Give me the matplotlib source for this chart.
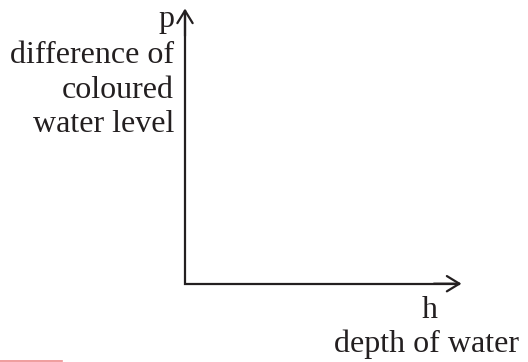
import matplotlib
matplotlib.use("Agg")
import matplotlib.pyplot as plt

# Diagram text content
y_symbol = "p"
y_label_lines = ["difference of", "coloured", "water level"]
x_symbol = "h"
x_label_lines = ["depth of water"]

W, H = 528, 362
INK = "#231f20"
FONT = "Liberation Serif"

fig = plt.figure(figsize=(W / 100, H / 100), dpi=100)

# axes placed so that its origin is the corner of the two axis arrows
ox, oy = 185, 283.7       # origin in pixels (from top-left)
xt, yt = 461.5, 8.5       # arrow tips
ax = fig.add_axes([ox / W, 1 - oy / H, (xt - ox) / W, (oy - yt) / H])
ax.set_xlim(0, 1)
ax.set_ylim(0, 1)
ax.axis("off")

# L-shaped axis lines with a clean square corner
ax.plot([0.995, 0, 0], [0, 0, 0.995], color=INK, lw=1.6, clip_on=False,
        solid_joinstyle="miter", solid_capstyle="butt")

arrow_kw = dict(arrowstyle="->,head_length=0.9,head_width=0.55",
                color=INK, lw=1.6, shrinkA=0, shrinkB=0, mutation_scale=10)
ax.annotate("", xy=(1, 0), xytext=(0.9, 0), xycoords="axes fraction",
            arrowprops=arrow_kw, annotation_clip=False)
ax.annotate("", xy=(0, 1), xytext=(0, 0.9), xycoords="axes fraction",
            arrowprops=arrow_kw, annotation_clip=False)

def ftext(x, y, s, ha):
    fig.text(x / W, 1 - y / H, s, ha=ha, va="baseline", fontsize=23,
             family=FONT, color=INK)

# y-axis labels (right-aligned to the left of the vertical axis)
ftext(174, 27, y_symbol, "right")
for i, line in enumerate(y_label_lines):
    ftext(174, 63 + i * 34.5, line, "right")

# x-axis labels (below the arrow tip)
ftext(430, 318, x_symbol, "center")
for i, line in enumerate(x_label_lines):
    ftext(427, 352 + i * 34.5, line, "center")

# faint red trace at the bottom-left edge of the reference
fig.add_artist(plt.Line2D([0, 62 / W], [0.6 / H, 0.6 / H], color="#e87070",
                          lw=1.2, alpha=0.8, transform=fig.transFigure))

fig.savefig("out.png", dpi=100)
